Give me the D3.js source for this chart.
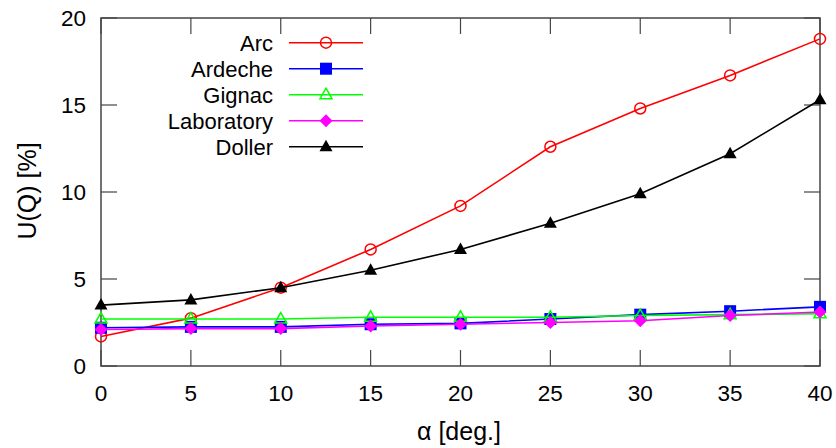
<!DOCTYPE html>
<html><head><meta charset="utf-8">
<script src="https://cdn.jsdelivr.net/npm/d3@7"></script>
<style>body{margin:0;background:#fff}svg{display:block}text{font-family:"Liberation Sans",Arial,sans-serif}</style>
</head><body><svg id="c" width="836" height="448"></svg>
<script>
const alphas = [0,5,10,15,20,25,30,35,40];
const arc = [1.7,2.75,4.5,6.7,9.2,12.6,14.8,16.7,18.8];
const ardeche = [2.2,2.25,2.25,2.4,2.45,2.7,2.95,3.15,3.4];
const gignac = [2.7,2.7,2.7,2.8,2.8,2.8,2.9,2.95,3.0];
const laboratory = [2.1,2.15,2.15,2.3,2.4,2.5,2.6,2.9,3.1];
const doller = [3.5,3.8,4.5,5.5,6.7,8.2,9.9,12.2,15.3];
const xTicks = [0,5,10,15,20,25,30,35,40];
const yTicks = [0,5,10,15,20];
const seriesNames = ["Arc","Ardeche","Gignac","Laboratory","Doller"];
const seriesColors = ["#ff0000","#0000ff","#00ff00","#ff00ff","#000000"];
const seriesMarkers = ["circle","square","triangleOpen","diamond","triangle"];
const seriesData = [arc,ardeche,gignac,laboratory,doller];

const svg = d3.select("#c");
const L=101,R=820,T=18,B=366;
const x = d3.scaleLinear().domain([0,40]).range([L,R]);
const y = d3.scaleLinear().domain([0,20]).range([B,T]);
const frame="#444", tl=16;

const g = svg.append("g");
xTicks.forEach(t=>{
  g.append("line").attr("x1",x(t)).attr("x2",x(t)).attr("y1",B).attr("y2",B-tl).attr("stroke",frame).attr("stroke-width",1.2);
  g.append("line").attr("x1",x(t)).attr("x2",x(t)).attr("y1",T).attr("y2",T+tl).attr("stroke",frame).attr("stroke-width",1.2);
  g.append("text").attr("x",x(t)).attr("y",401).attr("text-anchor","middle").attr("font-size",22.5).text(t);
});
yTicks.forEach(t=>{
  g.append("line").attr("x1",L).attr("x2",L+tl).attr("y1",y(t)).attr("y2",y(t)).attr("stroke",frame).attr("stroke-width",1.2);
  g.append("line").attr("x1",R).attr("x2",R-tl).attr("y1",y(t)).attr("y2",y(t)).attr("stroke",frame).attr("stroke-width",1.2);
  g.append("text").attr("x",86).attr("y",y(t)+8).attr("text-anchor","end").attr("font-size",22.5).text(t);
});
g.append("rect").attr("x",L).attr("y",T).attr("width",R-L).attr("height",B-T).attr("fill","none").attr("stroke",frame).attr("stroke-width",1.5);

g.append("text").attr("x",459).attr("y",440).attr("text-anchor","middle").attr("font-size",25).text("α [deg.]");
g.append("text").attr("transform","translate(36,191) rotate(-90)").attr("text-anchor","middle").attr("font-size",25).text("U(Q) [%]");

function marker(sel,type,cx,cy,color){
  if(type==="circle") sel.append("circle").attr("cx",cx).attr("cy",cy).attr("r",5.5).attr("fill","none").attr("stroke",color).attr("stroke-width",1.5);
  else if(type==="square") sel.append("rect").attr("x",cx-6).attr("y",cy-6).attr("width",12).attr("height",12).attr("fill",color);
  else if(type==="diamond") sel.append("path").attr("d",`M${cx},${cy-6.5}L${cx+6.5},${cy}L${cx},${cy+6.5}L${cx-6.5},${cy}Z`).attr("fill",color);
  else if(type==="triangle") sel.append("path").attr("d",`M${cx},${cy-7}L${cx+6.5},${cy+4.5}L${cx-6.5},${cy+4.5}Z`).attr("fill",color);
  else if(type==="triangleOpen") sel.append("path").attr("d",`M${cx},${cy-6.5}L${cx+6},${cy+4}L${cx-6},${cy+4}Z`).attr("fill","none").attr("stroke",color).attr("stroke-width",1.5);
}

const line = d3.line().x((d,i)=>x(alphas[i])).y(d=>y(d));
seriesData.forEach((s,k)=>{
  const sg = svg.append("g");
  sg.append("path").attr("d",line(s)).attr("fill","none").attr("stroke",seriesColors[k]).attr("stroke-width",1.6);
  s.forEach((v,i)=>marker(sg,seriesMarkers[k],x(alphas[i]),y(v),seriesColors[k]));
  const ly = 42.7 + k*26;
  sg.append("text").attr("x",273).attr("y",ly+8).attr("text-anchor","end").attr("font-size",22).text(seriesNames[k]);
  sg.append("line").attr("x1",289).attr("x2",363).attr("y1",ly).attr("y2",ly).attr("stroke",seriesColors[k]).attr("stroke-width",1.6);
  marker(sg,seriesMarkers[k],326,ly,seriesColors[k]);
});
</script></body></html>
